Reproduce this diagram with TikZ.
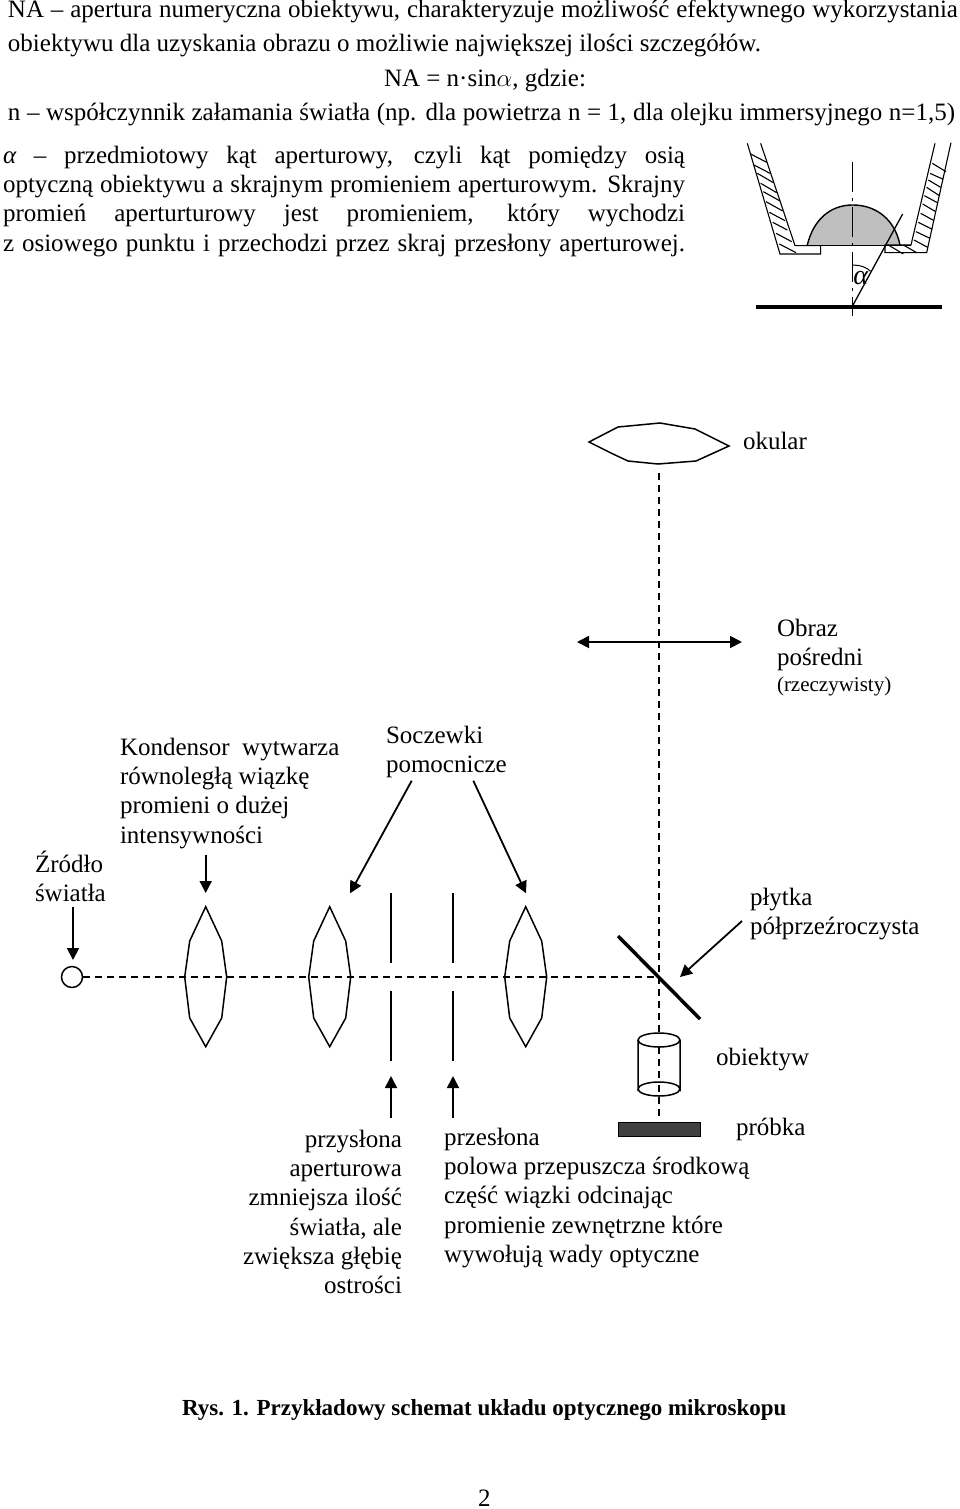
\documentclass[tikz,border=0pt]{standalone}
\usepackage{fontspec}
\setmainfont{Liberation Serif}
\usetikzlibrary{arrows.meta}
\newcommand{\jl}[2]{\makebox[#1pt][s]{#2}}
\tikzset{
 x=1pt,y=-1pt,
 txt/.style={inner sep=0pt,outer sep=0pt,font=\fontsize{25}{29.3}\selectfont,align=left,anchor=north west,execute at begin node={\rule{0pt}{18pt}}},
 rtxt/.style={txt,align=right,anchor=north east},
 ln/.style={line width=1.5pt,black},
 axisdash/.style={line width=1.5pt,dash pattern=on 7pt off 5pt},
 arr/.style={line width=1.8pt,-{Triangle[length=12pt,width=12pt]}},
 darr/.style={line width=1.8pt,{Triangle[length=12pt,width=12pt]}-{Triangle[length=12pt,width=12pt]}},
 thickln/.style={line width=3.5pt},
 fig/.style={line width=1.1pt},
}
\newcommand{\lens}[1]{%
 \begin{scope}[shift={(#1,0)}]
 \draw[ln] (0,906.7) -- (16,941) -- (21,977) -- (16,1018) -- (0,1046.7) -- (-16,1018) -- (-21,977) -- (-16,941) -- cycle;
 \end{scope}}
\begin{document}
\begin{tikzpicture}
\useasboundingbox (0,0) rectangle (960,1509);
% top text (y = baseline - 18)
\node[txt] (t1) at (8,0) {\jl{950}{NA – apertura numeryczna obiektywu, charakteryzuje możliwość efektywnego wykorzystania}};
\node[txt] (t1b) at (8,34) {obiektywu dla uzyskania obrazu o możliwie największej ilości szczegółów.};
\node[txt] (t2) at (384,69) {NA = n·sin$\alpha$, gdzie:};
\node[txt] (t3) at (8,103) {\jl{947}{n – współczynnik załamania światła (np. dla powietrza n = 1, dla olejku immersyjnego n=1,5)}};
\node[txt] (t4) at (3,146) {\jl{682}{{\itshape α} – przedmiotowy kąt aperturowy, czyli kąt pomiędzy osią}\\\jl{682}{optyczną obiektywu a skrajnym promieniem aperturowym. Skrajny}\\\jl{682}{promień aperturturowy jest promieniem, który wychodzi}\\\jl{682}{z osiowego punktu i przechodzi przez skraj przesłony aperturowej.}};
% small figure
\begin{scope}[shift={(730,130)},x=0.3333pt,y=-0.3333pt]
 \fill[gray!50] (232,345) .. controls (250,270) and (300,225) .. (368,225) .. controls (440,225) and (495,270) .. (510,345) -- cycle;
 \draw[line width=1.4pt] (232,345) .. controls (250,270) and (300,225) .. (368,225) .. controls (440,225) and (495,270) .. (510,345);
 \draw[line width=1.4pt] (195,347) -- (543,347);
 \draw[fig] (52,40) -- (150,372) -- (272,372) -- (272,347) -- (195,347) -- (92,40);
 \draw[fig] (663,38) -- (590,368) -- (465,368) -- (465,345) -- (543,345) -- (615,40);
 \foreach \ya/\yb/\xa/\xb in {72/97/62/110,105/130/72/120,130/158/82/130,160/188/92/140,185/213/100/150,215/243/108/158,247/272/118/165,277/300/128/172,310/335/138/185,342/368/148/198}{
  \draw[fig] (\xa,\ya) -- (\xb,\yb);}
 \foreach \ya/\yb/\xa/\xb in {100/125/607/648,130/148/600/640,150/172/595/632,172/197/590/628,197/218/583/622,222/245/578/617,250/272/572/612,277/298/565/607,305/325/558/600,330/352/552/593}{
  \draw[fig] (\xa,\ya) -- (\xb,\yb);}
 \draw[fig] (475,345) -- (520,372);
 \draw[fig] (520,345) -- (560,368);
 \draw[line width=1.1pt,dash pattern=on 30pt off 6pt on 3pt off 6pt] (368,97) -- (368,557);
 \draw[line width=1.3pt] (368,527) -- (518,252);
 \draw[line width=3.5pt] (78,531) -- (637,531);
 \draw[line width=1pt] (368,405) .. controls (390,405) and (410,412) .. (422,424);
 \node[inner sep=0pt,font=\itshape\fontsize{28}{28}\selectfont] (al) at (392,443) {α};
\end{scope}
% optical diagram
\coordinate (axs) at (83,977);
\coordinate (axe) at (659,977);
\coordinate (vt) at (659,473);
\coordinate (vb) at (659,1119);
\draw[axisdash] (axs) -- (axe);
\draw[axisdash] (vt) -- (vb);
\node[circle,draw,line width=1.5pt,minimum size=21pt,inner sep=0pt,fill=white] (src) at (72,977) {};
\lens{205.7}
\lens{329.7}
\lens{525.7}
\coordinate (s1a) at (391,893); \coordinate (s1b) at (391,963);
\coordinate (s1c) at (391,991); \coordinate (s1d) at (391,1061);
\coordinate (s2a) at (453,893); \coordinate (s2b) at (453,963);
\coordinate (s2c) at (453,991); \coordinate (s2d) at (453,1061);
\draw[ln] (s1a) -- (s1b);
\draw[ln] (s1c) -- (s1d);
\draw[ln] (s2a) -- (s2b);
\draw[ln] (s2c) -- (s2d);
\coordinate (ma) at (618,936); \coordinate (mb) at (700,1019);
\draw[thickln] (ma) -- (mb);
\draw[ln] (589,442) -- (618,427) -- (660,423) -- (695,429) -- (729,446) -- (696,461) -- (658,464) -- (628,461) -- (613,454) -- cycle;
\coordinate (dl) at (577,642); \coordinate (dr) at (742,642);
\draw[darr] (dl) -- (dr);
% objective
\draw[ln,fill=white] (638,1040) -- (638,1089) arc[start angle=180,end angle=360,x radius=21,y radius=7] -- (680,1040);
\draw[ln,fill=white] (659,1040) ellipse[x radius=21,y radius=7];
\draw[ln] (638,1089) arc[start angle=180,end angle=0,x radius=21,y radius=7];
\draw[axisdash] (659,1047) -- (659,1082);
\draw[line width=1pt,fill=black!75] (618,1122) rectangle (700,1136);
% labels (y = baseline - 18)
\node[txt] (okular) at (743,431) {okular};
\node[txt] (obraz) at (777,618.7) {Obraz\\pośredni};
\node[txt,font=\fontsize{21}{25}\selectfont] (rz) at (777,673) {(rzeczywisty)};
\node[txt] (kond) at (120,738) {Kondensor \ wytwarza\\równoległą wiązkę\\promieni o dużej\\intensywności};
\node[txt] (socz) at (386,726) {Soczewki\\pomocnicze};
\node[txt] (zr) at (35,851) {Źródło\\światła};
\node[txt] (pl) at (750,888) {płytka\\półprzeźroczysta};
\node[txt] (ob) at (716,1047) {obiektyw};
\node[txt] (pr) at (736,1117) {próbka};
\node[rtxt] (prz) at (402,1130) {przysłona\\aperturowa\\zmniejsza ilość\\światła, ale\\zwiększa głębię\\ostrości};
\node[txt] (pol) at (444,1128) {przesłona\\polowa przepuszcza środkową\\część wiązki odcinając\\promienie zewnętrzne które\\wywołują wady optyczne};
\node[txt,font=\bfseries\fontsize{23}{27}\selectfont] (rys) at (182,1397) {Rys. 1. Przykładowy schemat układu optycznego mikroskopu};
\node[txt] (pg) at (478,1488) {2};
% arrows
\coordinate (a1) at (73,907); \coordinate (a1t) at (73,960);
\draw[arr] (a1) -- (a1t);
\coordinate (a2) at (205.7,855); \coordinate (a2t) at (205.7,893);
\draw[arr] (a2) -- (a2t);
\coordinate (a3) at (411.7,780.7); \coordinate (a3t) at (350,893.3);
\draw[arr] (a3) -- (a3t);
\coordinate (a4) at (473.3,780.7); \coordinate (a4t) at (526,893.3);
\draw[arr] (a4) -- (a4t);
\coordinate (a5) at (742,921); \coordinate (a5t) at (680,977);
\draw[arr] (a5) -- (a5t);
\coordinate (a6) at (391,1118); \coordinate (a6t) at (391,1076);
\draw[arr] (a6) -- (a6t);
\coordinate (a7) at (453,1118); \coordinate (a7t) at (453,1076);
\draw[arr] (a7) -- (a7t);
\end{tikzpicture}
\end{document}
